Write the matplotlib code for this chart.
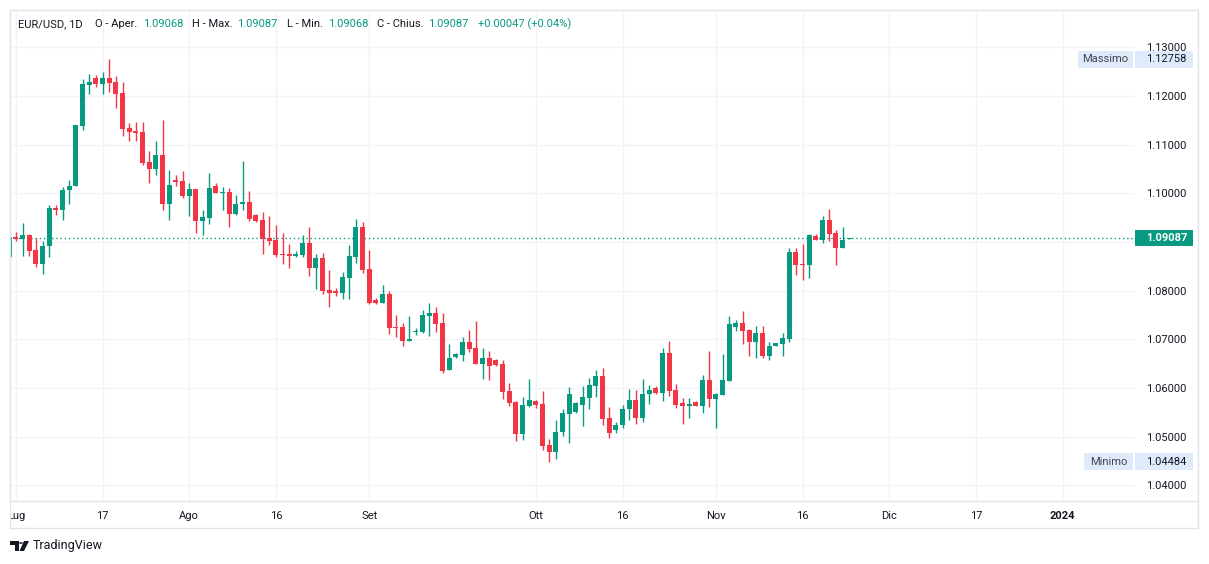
import matplotlib
matplotlib.use('Agg')
import matplotlib.pyplot as plt
from matplotlib.patches import Rectangle, Polygon, Circle
from matplotlib.transforms import blended_transform_factory
import numpy as np
import pandas as pd

plt.rcParams['font.family'] = ['Roboto', 'DejaVu Sans']

# daily EUR/USD candles (feed has Sunday bars), from 2023-06-30
opens = [1.0869, 1.0910, 1.0907, 1.0914, 1.0884, 1.0855, 1.0892, 1.0970, 1.0966, 1.1006,
         1.1014, 1.1138, 1.1223, 1.1237, 1.1225, 1.1237, 1.1229, 1.1206, 1.1134, 1.1128,
         1.1126, 1.1064, 1.1049, 1.1079, 1.0977, 1.1027, 1.1025, 1.0995, 1.1009, 1.0944,
         1.0950, 1.1015, 1.1001, 1.1003, 1.0958, 1.0978, 1.0982, 1.0955, 1.0945, 1.0909,
         1.0904, 1.0876, 1.0875, 1.0871, 1.0873, 1.0898, 1.0847, 1.0867, 1.0801, 1.0799,
         1.0796, 1.0825, 1.0870, 1.0930, 1.0845, 1.0781, 1.0775, 1.0793, 1.0725, 1.0726,
         1.0697, 1.0716, 1.0716, 1.0748, 1.0754, 1.0734, 1.0636, 1.0663, 1.0668, 1.0694,
         1.0683, 1.0650, 1.0662, 1.0657, 1.0649, 1.0594, 1.0571, 1.0506, 1.0563, 1.0573,
         1.0567, 1.0483, 1.0469, 1.0509, 1.0547, 1.0551, 1.0566, 1.0580, 1.0605, 1.0625,
         1.0538, 1.0514, 1.0523, 1.0557, 1.0575, 1.0539, 1.0587, 1.0600, 1.0590, 1.0672,
         1.0596, 1.0569, 1.0564, 1.0571, 1.0562, 1.0616, 1.0578, 1.0586, 1.0615, 1.0726,
         1.0733, 1.0719, 1.0694, 1.0713, 1.0666, 1.0686, 1.0690, 1.0701, 1.0879, 1.0855,
         1.0853, 1.0912, 1.0904, 1.0945, 1.0918, 1.0888, 1.09068]
highs = [1.0915, 1.0920, 1.0938, 1.0916, 1.0908, 1.0902, 1.0975, 1.0976, 1.1012, 1.1027,
         1.1141, 1.1235, 1.1245, 1.1243, 1.1249, 1.12758, 1.1241, 1.1229, 1.1145, 1.1147,
         1.1147, 1.1087, 1.1108, 1.1151, 1.1048, 1.1038, 1.1046, 1.1021, 1.1009, 1.0966,
         1.1042, 1.1021, 1.1013, 1.1011, 1.0997, 1.1066, 1.1005, 1.0957, 1.0962, 1.0953,
         1.0935, 1.0919, 1.0896, 1.0881, 1.0914, 1.0931, 1.0875, 1.0878, 1.0842, 1.0805,
         1.0838, 1.0893, 1.0947, 1.0942, 1.0884, 1.0785, 1.0812, 1.0799, 1.0750, 1.0734,
         1.0747, 1.0723, 1.0760, 1.0775, 1.0766, 1.0754, 1.0690, 1.0671, 1.0705, 1.0719,
         1.0738, 1.0682, 1.0675, 1.0660, 1.0658, 1.0610, 1.0573, 1.0582, 1.0619, 1.0575,
         1.0594, 1.0495, 1.0534, 1.0557, 1.0602, 1.0571, 1.0604, 1.0621, 1.0637, 1.0641,
         1.0561, 1.0530, 1.0565, 1.0597, 1.0596, 1.0619, 1.0606, 1.0604, 1.0682, 1.0697,
         1.0608, 1.0579, 1.0580, 1.0574, 1.0627, 1.0676, 1.0590, 1.0670, 1.0748, 1.0740,
         1.0758, 1.0721, 1.0727, 1.0727, 1.0695, 1.0693, 1.0713, 1.0888, 1.0888, 1.0896,
         1.0916, 1.0916, 1.0953, 1.0968, 1.0925, 1.0931, 1.09087]
lows = [1.0862, 1.0903, 1.0871, 1.0871, 1.0849, 1.0834, 1.0870, 1.0955, 1.0945, 1.0978,
        1.1014, 1.1130, 1.1204, 1.1219, 1.1205, 1.1209, 1.1176, 1.1118, 1.1108, 1.1108,
        1.1058, 1.1022, 1.1038, 1.0966, 1.0945, 1.1016, 1.0991, 1.0954, 1.0919, 1.0915,
        1.0936, 1.1000, 1.0966, 1.0931, 1.0956, 1.0966, 1.0944, 1.0942, 1.0876, 1.0894,
        1.0870, 1.0855, 1.0847, 1.0869, 1.0869, 1.0831, 1.0803, 1.0794, 1.0767, 1.0790,
        1.0783, 1.0783, 1.0857, 1.0837, 1.0773, 1.0773, 1.0775, 1.0710, 1.0705, 1.0687,
        1.0697, 1.0709, 1.0712, 1.0707, 1.0714, 1.0631, 1.0636, 1.0662, 1.0656, 1.0673,
        1.0650, 1.0619, 1.0617, 1.0646, 1.0578, 1.0562, 1.0492, 1.0494, 1.0561, 1.0559,
        1.0473, 1.04484, 1.0455, 1.0502, 1.0487, 1.0549, 1.0522, 1.0557, 1.0581, 1.0524,
        1.0498, 1.0508, 1.0518, 1.0535, 1.0527, 1.0531, 1.0568, 1.0588, 1.0574, 1.0584,
        1.0559, 1.0525, 1.0539, 1.0562, 1.0549, 1.0560, 1.0518, 1.0586, 1.0615, 1.0717,
        1.0691, 1.0666, 1.0662, 1.0662, 1.0657, 1.0686, 1.0666, 1.0694, 1.0832, 1.0822,
        1.0826, 1.0904, 1.0898, 1.0902, 1.0853, 1.0888, 1.09068]
closes = [1.0911, 1.0907, 1.0914, 1.0882, 1.0855, 1.0892, 1.0970, 1.0966, 1.1007, 1.1015,
          1.1140, 1.1225, 1.1229, 1.1225, 1.1237, 1.1227, 1.1205, 1.1133, 1.1125, 1.1123,
          1.1063, 1.1049, 1.1079, 1.0977, 1.1017, 1.1023, 1.0995, 1.1009, 1.0944, 1.0951,
          1.1011, 1.1001, 1.1003, 1.0958, 1.0978, 1.0982, 1.0948, 1.0943, 1.0907, 1.0903,
          1.0873, 1.0874, 1.0872, 1.0875, 1.0898, 1.0847, 1.0867, 1.0800, 1.0796, 1.0796,
          1.0827, 1.0871, 1.0930, 1.0843, 1.0775, 1.0775, 1.0793, 1.0724, 1.0723, 1.0697,
          1.0701, 1.0718, 1.0750, 1.0754, 1.0732, 1.0634, 1.0662, 1.0670, 1.0695, 1.0681,
          1.0650, 1.0662, 1.0646, 1.0648, 1.0592, 1.0570, 1.0506, 1.0565, 1.0575, 1.0566,
          1.0481, 1.0469, 1.0510, 1.0549, 1.0588, 1.0569, 1.0582, 1.0606, 1.0625, 1.0537,
          1.0508, 1.0524, 1.0557, 1.0575, 1.0539, 1.0588, 1.0596, 1.0590, 1.0672, 1.0594,
          1.0566, 1.0564, 1.0567, 1.0562, 1.0616, 1.0578, 1.0588, 1.0616, 1.0732, 1.0733,
          1.0717, 1.0694, 1.0713, 1.0666, 1.0686, 1.0692, 1.0703, 1.0879, 1.0853, 1.0853,
          1.0914, 1.0904, 1.0945, 1.0916, 1.0888, 1.0904, 1.09087]

tick_dates = ['2023-07-02', '2023-07-17', '2023-08-01', '2023-08-16', '2023-09-01', '2023-10-01',
              '2023-10-16', '2023-11-01', '2023-11-16', '2023-12-01', '2023-12-17', '2024-01-01']
tick_labels = ['Lug', '17', 'Ago', '16', 'Set', 'Ott', '16', 'Nov', '16', 'Dic', '17', '2024']
price_ticks = [1.04, 1.05, 1.06, 1.07, 1.08, 1.09, 1.10, 1.11, 1.12, 1.13]

GREEN = '#089981'
RED = '#f23645'
TXT = '#131722'
GRID = '#f0f3fa'
BORDER = '#e0e3eb'

W, H = 1209, 564
days = pd.bdate_range('2023-06-30', '2024-01-05', freq='C', weekmask='Sun Mon Tue Wed Thu Fri')
tick_pos = [days.get_loc(pd.Timestamp(d)) for d in tick_dates]

o = np.array(opens); h = np.array(highs); l = np.array(lows); c = np.array(closes)
idx = np.arange(len(o))
cols = np.where(c >= o, GREEN, RED)


def fx(px):
    return px / W


def fy(py):
    return 1 - py / H


fig = plt.figure(figsize=(W / 100, H / 100), dpi=100)
fig.patch.set_facecolor('white')
ax = fig.add_axes([fx(10), fy(501), fx(1135) - fx(10), fy(10) - fy(501)])
ax.set_facecolor('white')
for s in ax.spines.values():
    s.set_visible(False)

ax.vlines(idx, l, h, colors=cols, linewidth=1, zorder=3)
ax.bar(idx, np.maximum(np.abs(c - o), 0.00018), bottom=np.minimum(o, c), width=0.75,
       color=cols, linewidth=0, zorder=4)

ax.axhline(c[-1], color=GREEN, linestyle=(0, (1, 2)), linewidth=1, zorder=2)

ax.set_xlim(0.105, 168.85)
ax.set_ylim(1.03678, 1.13766)
ax.set_xticks(tick_pos)
ax.set_xticklabels(tick_labels)
ax.get_xticklabels()[-1].set_fontweight('bold')
ax.yaxis.tick_right()
ax.set_yticks(price_ticks)
# the scale label nearest the last price sits under the price box, so it is left blank
ax.set_yticklabels(['' if abs(v - c[-1]) < 0.002 else f'{v:.5f}' for v in price_ticks])
ax.tick_params(axis='x', length=0, pad=7, labelsize=8, labelcolor=TXT)
ax.tick_params(axis='y', length=0, pad=8, labelsize=8, labelcolor=TXT)
ax.grid(True, color=GRID, linewidth=1, zorder=0)
ax.set_axisbelow(True)

# frame and time axis line
fig.add_artist(Rectangle((fx(10), fy(528)), fx(1198) - fx(10), fy(10) - fy(528),
                         transform=fig.transFigure, fill=False, edgecolor=BORDER, linewidth=1, zorder=6))
fig.add_artist(plt.Line2D([fx(10), fx(1198)], [fy(501), fy(501)], transform=fig.transFigure,
                          color=BORDER, linewidth=1, zorder=6))
# clip the first month label at the frame
fig.add_artist(Rectangle((0, fy(527)), fx(9.5), fy(503) - fy(527), transform=fig.transFigure,
                         facecolor='white', edgecolor='none', zorder=7))

# price labels on the scale
bt = blended_transform_factory(fig.transFigure, ax.transData)
hh = 17 / 4867
imax = int(np.argmax(h)); imin = int(np.argmin(l))
for val, name, x0 in [(h[imax], 'Massimo', 1078), (l[imin], 'Minimo', 1084)]:
    fig.add_artist(Rectangle((fx(x0), val - hh / 2), fx(1133) - fx(x0), hh, transform=bt,
                             facecolor='#dfeafa', edgecolor='none', zorder=8))
    fig.add_artist(Rectangle((fx(1135), val - hh / 2), fx(1193) - fx(1135), hh, transform=bt,
                             facecolor='#dfeafa', edgecolor='none', zorder=8))
    fig.text(fx((x0 + 1133) / 2), val, name, transform=bt, ha='center', va='center',
             fontsize=8, color='#434651', zorder=9)
    fig.text(fx(1146), val, f'{val:.5f}', transform=bt, ha='left', va='center',
             fontsize=8, color=TXT, zorder=9)

hl = 16 / 4867
fig.add_artist(Rectangle((fx(1135), c[-1] - hl / 2), fx(1193) - fx(1135), hl, transform=bt,
                         facecolor=GREEN, edgecolor='none', zorder=8))
fig.text(fx(1146), c[-1], f'{c[-1]:.5f}', transform=bt, ha='left', va='center',
         fontsize=8, color='white', fontweight='bold', zorder=9)

# legend line at the top
chg = c[-1] - c[-2]
pct = chg / c[-2] * 100
header = [(18.4, 'EUR/USD, 1D', TXT), (95, 'O - Aper.', TXT), (142.7, f'{o[-1]:.5f}', GREEN),
          (192.5, 'H - Max.', TXT), (237.3, f'{h[-1]:.5f}', GREEN),
          (287, 'L - Min.', TXT), (328.4, f'{l[-1]:.5f}', GREEN),
          (377, 'C - Chius.', TXT), (427.9, f'{c[-1]:.5f}', GREEN),
          (478, f'{chg:+.5f} ({pct:+.2f}%)', GREEN)]
for x, s, col in header:
    fig.text(fx(x), fy(24), s, ha='left', va='center', fontsize=8, color=col)

# TradingView mark
fig.add_artist(Polygon([(fx(10), fy(541)), (fx(18.5), fy(541)), (fx(18.5), fy(551)),
                        (fx(15), fy(551)), (fx(15), fy(544.5)), (fx(10), fy(544.5))],
                       closed=True, transform=fig.transFigure, facecolor=TXT, edgecolor='none'))
fig.add_artist(Circle((fx(21), fy(543)), 1.8 / W, transform=fig.transFigure, facecolor=TXT))
fig.add_artist(Polygon([(fx(24), fy(541)), (fx(29), fy(541)), (fx(24), fy(551)), (fx(19.5), fy(551))],
                       closed=True, transform=fig.transFigure, facecolor=TXT, edgecolor='none'))
fig.text(fx(33), fy(546), 'TradingView', ha='left', va='center', fontsize=9, color=TXT)

fig.savefig('out.png', dpi=100)
